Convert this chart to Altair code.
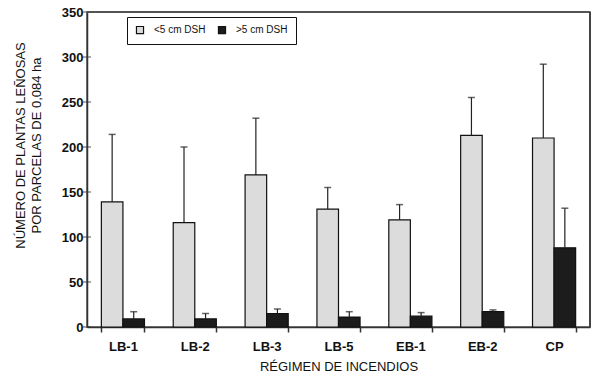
import altair as alt
import pandas as pd

categories = ["LB-1", "LB-2", "LB-3", "LB-5", "EB-1", "EB-2", "CP"]
series = ["<5 cm DSH", ">5 cm DSH"]
small_mean = [139, 116, 169, 131, 119, 213, 210]
small_err = [75, 84, 63, 24, 17, 42, 82]
large_mean = [9, 9, 15, 11, 12, 17, 88]
large_err = [8, 6, 5, 6, 4, 2, 44]
y_ticks = [0, 50, 100, 150, 200, 250, 300, 350]

rows = []
for i, c in enumerate(categories):
    rows.append({"cat": c, "ser": series[0], "val": small_mean[i], "top": small_mean[i] + small_err[i]})
    rows.append({"cat": c, "ser": series[1], "val": large_mean[i], "top": large_mean[i] + large_err[i]})
df = pd.DataFrame(rows)
tick_df = pd.DataFrame({"val": y_ticks})

FONT = "Liberation Sans"
xscale = alt.Scale(paddingInner=0.4, paddingOuter=0.2)
yscale = alt.Scale(domain=[0, 350])
xaxis = alt.Axis(title="RÉGIMEN DE INCENDIOS", labelAngle=0, tickBand="extent",
                 tickSize=5, labelPadding=8, titlePadding=7,
                 labelFontSize=13, titleFontSize=13, labelFont=FONT, titleFont=FONT,
                 labelFontWeight="bold", titleFontWeight="normal",
                 labelColor="#111", titleColor="#111",
                 domainColor="#333", domainWidth=1.5, tickColor="#333", tickWidth=1.5)
yaxis = alt.Axis(title=["NÚMERO DE PLANTAS LEÑOSAS", "POR PARCELAS DE 0,084 ha"],
                 values=y_ticks, ticks=False, labelPadding=4,
                 labelFontSize=13, titleFontSize=13, labelFont=FONT, titleFont=FONT,
                 labelFontWeight="bold", titleFontWeight="normal",
                 labelColor="#111", titleColor="#111",
                 domainColor="#333", domainWidth=1.5, grid=False,
                 titleLineHeight=16, titleX=-67, titleY=133,
                 titleBaseline="middle", titleAlign="center", titleAngle=270)
xenc = alt.X("cat:N", sort=categories, scale=xscale, axis=xaxis)
xoff = alt.XOffset("ser:N", sort=series)

top_line = alt.Chart(tick_df).mark_rule(color="#555", strokeWidth=1.5).encode(
    y=alt.datum(350, scale=yscale, axis=yaxis),
)
right_line = alt.Chart(tick_df).mark_rule(color="#444", strokeWidth=1.5).encode(
    x=alt.value("width"), y=alt.value(0), y2=alt.value("height"),
)

bars = alt.Chart(df).mark_bar(stroke="#111", strokeWidth=1.2).encode(
    x=xenc, xOffset=xoff,
    y=alt.Y("val:Q", scale=yscale, axis=yaxis),
    fill=alt.Fill("ser:N", sort=series,
                  scale=alt.Scale(domain=series, range=["#dcdcdc", "#1c1c1c"]),
                  legend=alt.Legend(title=None, orient="none", legendX=40, legendY=5,
                                    direction="horizontal", symbolType="square",
                                    symbolSize=50, symbolStrokeColor="#111", symbolStrokeWidth=1.2,
                                    labelFontSize=10, labelFont=FONT, labelColor="#111",
                                    strokeColor="#111", padding=8, columnPadding=10,
                                    labelOffset=9)),
)

rules = alt.Chart(df).mark_rule(color="#222", strokeWidth=1.2).encode(
    x=xenc, xOffset=xoff,
    y=alt.Y("val:Q", scale=yscale, axis=yaxis), y2="top:Q",
)
caps = alt.Chart(df).mark_tick(color="#222", size=7, thickness=1.5).encode(
    x=xenc, xOffset=xoff,
    y=alt.Y("top:Q", scale=yscale, axis=yaxis),
)
inner_ticks = alt.Chart(tick_df).mark_tick(color="#333", size=8, thickness=1.2).encode(
    x=alt.value(0),
    y=alt.Y("val:Q", scale=yscale, axis=yaxis),
)

chart = alt.layer(bars, rules, caps, inner_ticks, top_line, right_line).properties(
    width=503, height=315,
    autosize=alt.AutoSizeParams(type="none"),
    padding={"left": 79, "top": 4, "right": 2, "bottom": 47},
    background="white",
).configure_view(stroke="#555", strokeWidth=1.5)

chart.save("out.html", embed_options={"renderer": "svg", "actions": False})
